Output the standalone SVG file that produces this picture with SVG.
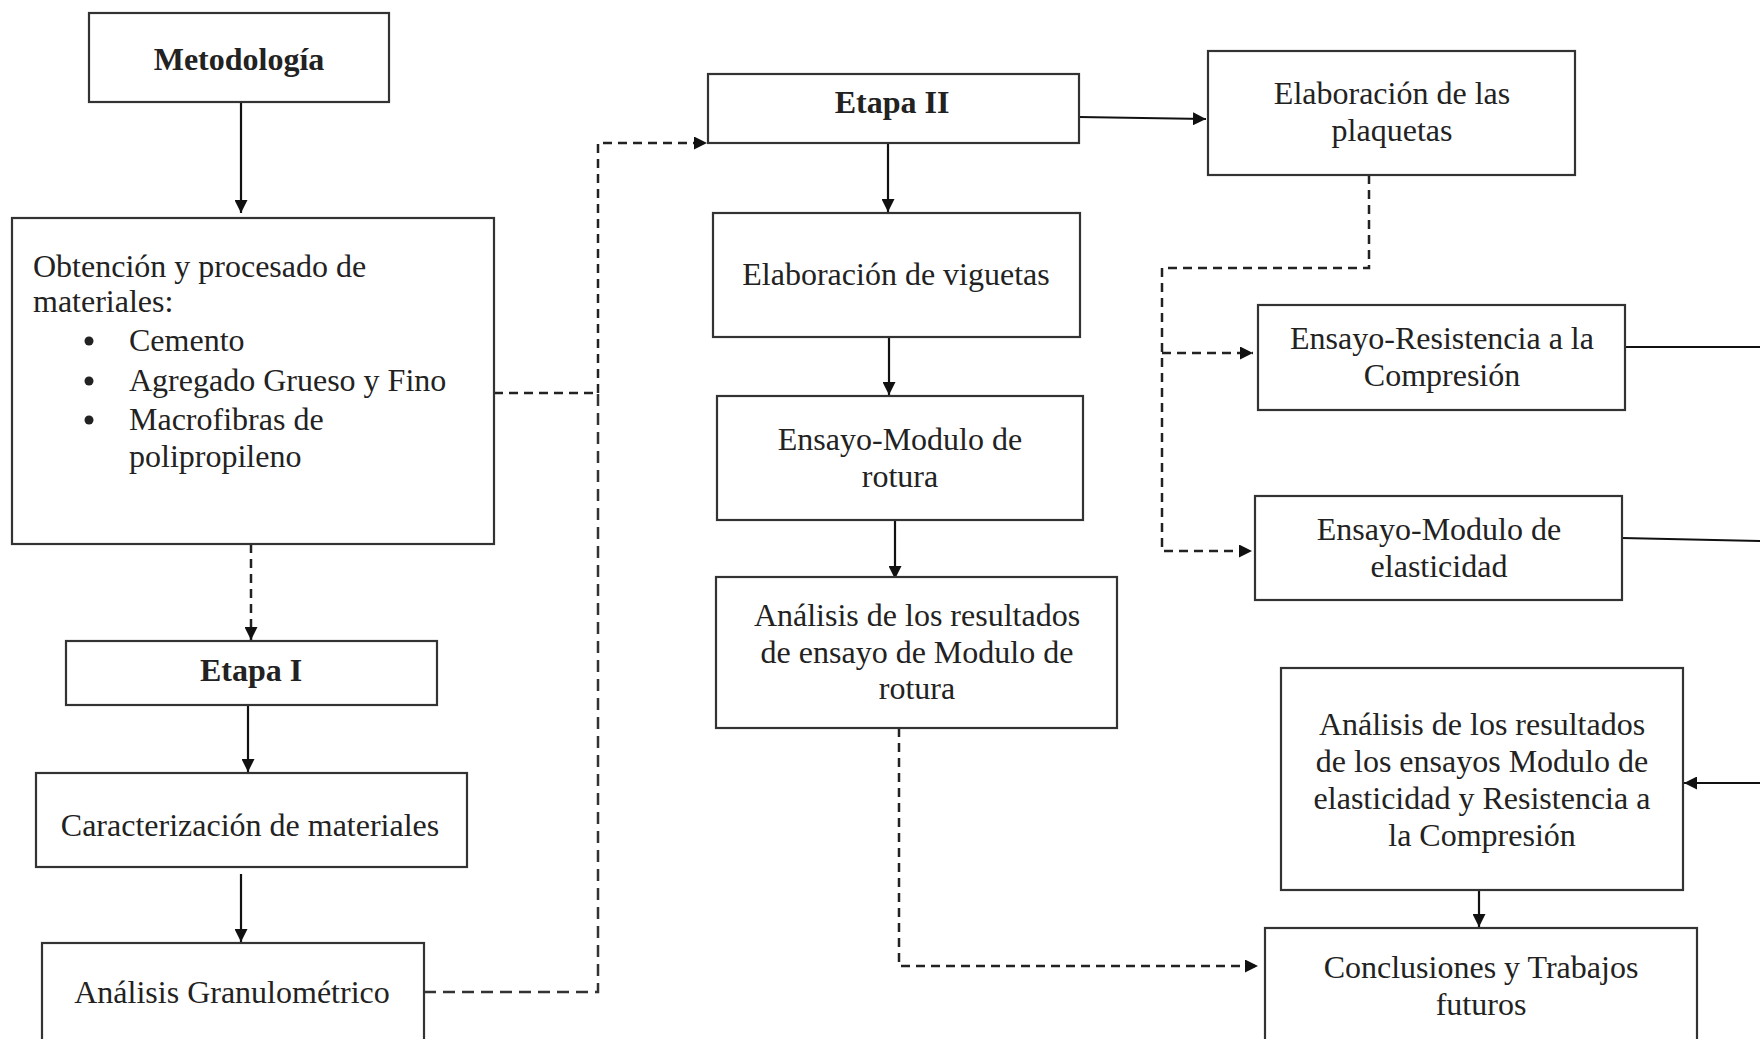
<svg xmlns="http://www.w3.org/2000/svg" width="1760" height="1039" viewBox="0 0 1760 1039">
<defs>
<marker id="ah" viewBox="0 0 13 13" refX="13" refY="6.5" markerWidth="13" markerHeight="13" markerUnits="userSpaceOnUse" orient="auto">
<path d="M0,0 L13,6.5 L0,13 Z" fill="#111"/>
</marker>
<style>
.box{fill:#fff;stroke:#333;stroke-width:2.2}
.t{font-family:"Liberation Serif","Times New Roman",serif;font-size:32px;fill:#222;text-anchor:middle}
.tl{font-family:"Liberation Serif","Times New Roman",serif;font-size:32px;fill:#222}
.b{font-weight:bold}
.s{fill:none;stroke:#111;stroke-width:2.2}
.d{fill:none;stroke:#222;stroke-width:2.5;stroke-dasharray:9 6}
.dl{fill:none;stroke:#333;stroke-width:2.5;stroke-dasharray:12 7}
</style>
</defs>
<rect width="1760" height="1039" fill="#fff"/>

<g id="connectors">
<line class="s" x1="241" y1="102" x2="241" y2="213" marker-end="url(#ah)"/>
<line class="d" x1="251" y1="544" x2="251" y2="640" marker-end="url(#ah)"/>
<line class="s" x1="248" y1="705" x2="248" y2="772" marker-end="url(#ah)"/>
<line class="s" x1="241" y1="874" x2="241" y2="942" marker-end="url(#ah)"/>
<polyline class="d" points="494,393 598,393"/>
<polyline class="dl" points="424,992 598,992 598,393"/>
<polyline class="d" points="598,393 598,143 707,143" marker-end="url(#ah)"/>
<line class="s" x1="1079" y1="117" x2="1206" y2="119" marker-end="url(#ah)"/>
<line class="s" x1="888" y1="143" x2="888" y2="212" marker-end="url(#ah)"/>
<line class="s" x1="889" y1="330" x2="889" y2="395" marker-end="url(#ah)"/>
<line class="s" x1="895" y1="516" x2="895" y2="579" marker-end="url(#ah)"/>
<polyline class="d" points="899,728 899,966 1258,966" marker-end="url(#ah)"/>
<polyline class="d" points="1369,175 1369,268 1162,268 1162,551 1252,551" marker-end="url(#ah)"/>
<line class="d" x1="1162" y1="353" x2="1253" y2="353" marker-end="url(#ah)"/>
<line class="s" x1="1625" y1="347" x2="1760" y2="347"/>
<line class="s" x1="1622" y1="538" x2="1760" y2="541"/>
<line class="s" x1="1760" y1="783" x2="1684" y2="783" marker-end="url(#ah)"/>
<line class="s" x1="1479" y1="890" x2="1479" y2="927" marker-end="url(#ah)"/>
</g>

<g id="metodologia">
<rect class="box" x="89" y="13" width="300" height="89"/>
<text class="t b" x="239" y="70">Metodología</text>
</g>

<g id="obtencion">
<rect class="box" x="12" y="218" width="482" height="326"/>
<text class="tl" x="33" y="277">Obtención y procesado de</text>
<text class="tl" x="33" y="312">materiales:</text>
<circle cx="89" cy="341" r="4.5" fill="#222"/>
<text class="tl" x="129" y="351">Cemento</text>
<circle cx="89" cy="381" r="4.5" fill="#222"/>
<text class="tl" x="129" y="391">Agregado Grueso y Fino</text>
<circle cx="89" cy="420" r="4.5" fill="#222"/>
<text class="tl" x="129" y="430">Macrofibras de</text>
<text class="tl" x="129" y="467">polipropileno</text>
</g>

<g id="etapa1">
<rect class="box" x="66" y="641" width="371" height="64"/>
<text class="t b" x="251" y="681">Etapa I</text>
</g>

<g id="caracterizacion">
<rect class="box" x="36" y="773" width="431" height="94"/>
<text class="t" x="250" y="836">Caracterización de materiales</text>
</g>

<g id="granulometrico">
<rect class="box" x="42" y="943" width="382" height="110"/>
<text class="t" x="232" y="1003">Análisis Granulométrico</text>
</g>

<g id="etapa2">
<rect class="box" x="708" y="74" width="371" height="69"/>
<text class="t b" x="892" y="113">Etapa II</text>
</g>

<g id="viguetas">
<rect class="box" x="713" y="213" width="367" height="124"/>
<text class="t" x="896" y="285">Elaboración de viguetas</text>
</g>

<g id="rotura">
<rect class="box" x="717" y="396" width="366" height="124"/>
<text class="t" x="900" y="450">Ensayo-Modulo de</text>
<text class="t" x="900" y="487">rotura</text>
</g>

<g id="analisis-rotura">
<rect class="box" x="716" y="577" width="401" height="151"/>
<text class="t" x="917" y="626">Análisis de los resultados</text>
<text class="t" x="917" y="663">de ensayo de Modulo de</text>
<text class="t" x="917" y="699">rotura</text>
</g>

<g id="plaquetas">
<rect class="box" x="1208" y="51" width="367" height="124"/>
<text class="t" x="1392" y="104">Elaboración de las</text>
<text class="t" x="1392" y="141">plaquetas</text>
</g>

<g id="compresion">
<rect class="box" x="1258" y="305" width="367" height="105"/>
<text class="t" x="1442" y="349">Ensayo-Resistencia a la</text>
<text class="t" x="1442" y="386">Compresión</text>
</g>

<g id="elasticidad">
<rect class="box" x="1255" y="496" width="367" height="104"/>
<text class="t" x="1439" y="540">Ensayo-Modulo de</text>
<text class="t" x="1439" y="577">elasticidad</text>
</g>

<g id="analisis-ensayos">
<rect class="box" x="1281" y="668" width="402" height="222"/>
<text class="t" x="1482" y="735">Análisis de los resultados</text>
<text class="t" x="1482" y="772">de los ensayos Modulo de</text>
<text class="t" x="1482" y="809">elasticidad y Resistencia a</text>
<text class="t" x="1482" y="846">la Compresión</text>
</g>

<g id="conclusiones">
<rect class="box" x="1265" y="928" width="432" height="120"/>
<text class="t" x="1481" y="978">Conclusiones y Trabajos</text>
<text class="t" x="1481" y="1015">futuros</text>
</g>
</svg>
